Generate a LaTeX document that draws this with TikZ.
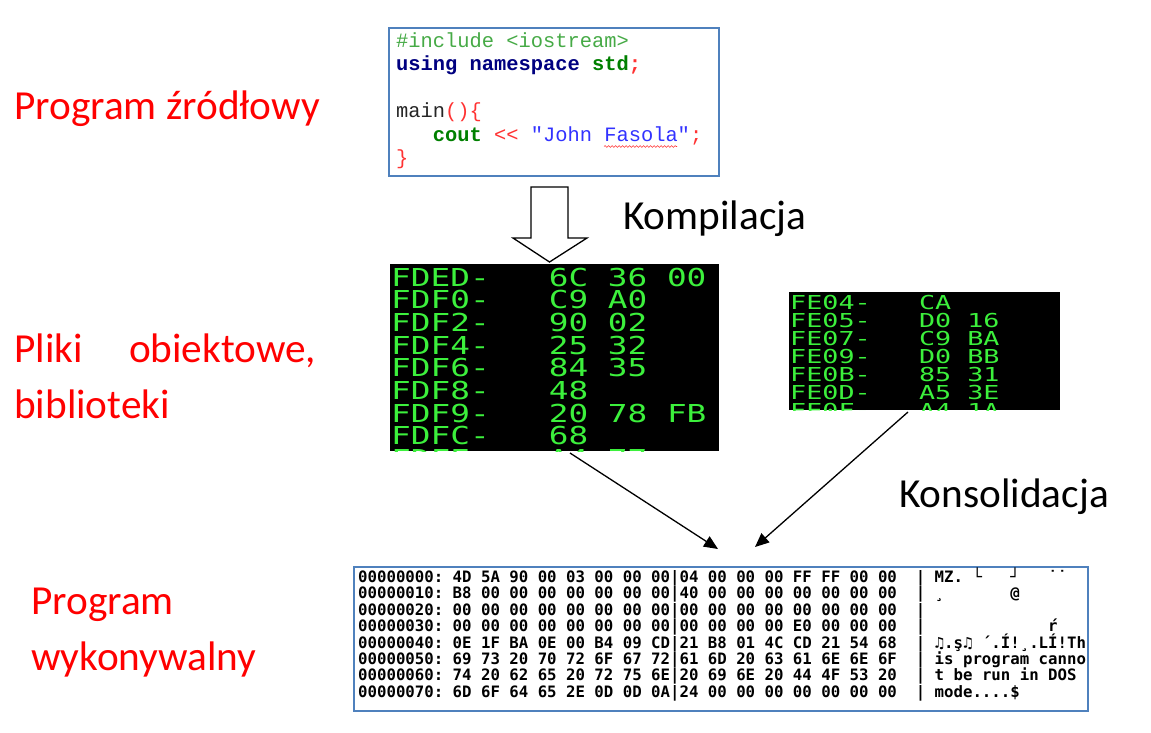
\documentclass[tikz,border=0pt]{standalone}
\usepackage{fontspec}
\usepackage{graphicx}
\setmainfont{Carlito}
\newfontfamily\codefont{Liberation Mono}
\newfontfamily\scrfont{DejaVu Sans Mono}
\usetikzlibrary{arrows.meta,decorations.pathmorphing}
\definecolor{lblred}{RGB}{255,0,0}
\definecolor{boxblue}{RGB}{79,129,189}
\definecolor{scrgreen}{RGB}{60,240,60}
\definecolor{incgreen}{RGB}{70,170,70}
\definecolor{kwblue}{RGB}{0,0,128}
\definecolor{kwgreen}{RGB}{0,128,0}
\definecolor{opred}{RGB}{255,50,50}
\definecolor{strblue}{RGB}{50,50,255}
\newcommand{\sone}[1]{\scalebox{1.325}[1]{#1}}
\newcommand{\stwo}[1]{\scalebox{1.393}[1]{#1}}
\tikzset{
  lbl/.style={font=\fontsize{41.3}{48}\selectfont, text=lblred, inner sep=0pt, anchor=base west},
  blbl/.style={lbl, text=black},
  codeln/.style={font=\codefont\fontsize{20.4}{23.5}\selectfont, inner sep=0pt, anchor=base west},
  scrone/.style={font=\scrfont\fontsize{24.7}{24}\selectfont, text=scrgreen, inner sep=0pt, anchor=base west},
  scrtwo/.style={font=\scrfont\fontsize{19.2}{20}\selectfont, text=scrgreen, inner sep=0pt, anchor=base west},
  hexln/.style={font=\scrfont\bfseries\fontsize{15.7}{16}\selectfont, text=black, inner sep=0pt, anchor=base west},
  framebox/.style={draw=boxblue, line width=1.8pt, fill=white},
  screenbox/.style={fill=black, draw=none},
  conn/.style={line width=1.3pt, -{Triangle[length=14pt,width=12pt]}},
  hollow/.style={draw=black, line width=1.3pt, fill=white, line join=miter}
}
\begin{document}
\begin{tikzpicture}[x=1pt,y=-1pt]
\useasboundingbox (0,0) rectangle (1151,732);

% left labels
\node[lbl] (l1) at (14,119) {Program źródłowy};
\node[lbl] (l2) at (14,362) {\makebox[302pt][s]{Pliki obiektowe,}};
\node[lbl] (l3) at (14,418) {biblioteki};
\node[lbl] (l4) at (31,614) {Program};
\node[lbl] (l5) at (31,670) {wykonywalny};
\node[blbl] (k1) at (623,229) {Kompilacja};
\node[blbl] (k2) at (899,507) {Konsolidacja};

% source code box
\draw[framebox] (389,28) rectangle (719,176);
\node[codeln] (c1) at (396,47) {\color{incgreen}\#include <iostream>};
\node[codeln] (c2) at (396,70.5) {\bfseries\color{kwblue}using namespace \color{kwgreen}std\color{opred};};
\node[codeln] (c3) at (396,117.5) {\color{black!85}main\color{opred}()\{};
\node[codeln] (c4) at (396,141) {~~~{\bfseries\color{kwgreen}cout}\color{opred}~<<~\color{strblue}"John Fasola"\color{opred};};
\node[codeln] (c5) at (396,164.5) {\color{opred}\}};
\draw[opred, line width=0.6pt, decorate, decoration={snake, amplitude=0.9pt, segment length=3.5pt}] (604,146.5) -- (677,146.5);

% hollow arrow
\draw[hollow] (531,187) -- (568,187) -- (568,238) -- (587,238) -- (549.5,262) -- (513,238) -- (531,238) -- cycle;

% screen 1
\node[screenbox, minimum width=329pt, minimum height=187pt, anchor=north west, inner sep=0pt] (obj1) at (390,264) {};
\begin{scope}
\clip (390,264) rectangle (719,451);
\node[scrone] (s1a) at (391,286) {\sone{FDED-~~~6C~36~00}};
\node[scrone] (s1b) at (391,308.7) {\sone{FDF0-~~~C9~A0}};
\node[scrone] (s1c) at (391,331.4) {\sone{FDF2-~~~90~02}};
\node[scrone] (s1d) at (391,354.1) {\sone{FDF4-~~~25~32}};
\node[scrone] (s1e) at (391,376.8) {\sone{FDF6-~~~84~35}};
\node[scrone] (s1f) at (391,399.5) {\sone{FDF8-~~~48}};
\node[scrone] (s1g) at (391,422.2) {\sone{FDF9-~~~20~78~FB}};
\node[scrone] (s1h) at (391,444.9) {\sone{FDFC-~~~68}};
\node[scrone] (s1i) at (391,467.6) {\sone{FDFE-~~~A4~77}};
\end{scope}

% screen 2
\node[screenbox, minimum width=271pt, minimum height=118pt, anchor=north west, inner sep=0pt] (obj2) at (789,292) {};
\begin{scope}
\clip (789,292) rectangle (1060,410);
\node[scrtwo] (s2a) at (790,309) {\stwo{FE04-~~~CA}};
\node[scrtwo] (s2b) at (790,327.1) {\stwo{FE05-~~~D0~16}};
\node[scrtwo] (s2c) at (790,345.2) {\stwo{FE07-~~~C9~BA}};
\node[scrtwo] (s2d) at (790,363.3) {\stwo{FE09-~~~D0~BB}};
\node[scrtwo] (s2e) at (790,381.4) {\stwo{FE0B-~~~85~31}};
\node[scrtwo] (s2f) at (790,399.5) {\stwo{FE0D-~~~A5~3E}};
\node[scrtwo] (s2g) at (790,417.6) {\stwo{FE0F-~~~A4~1A}};
\end{scope}

% executable box
\draw[framebox] (354,567) rectangle (1088,711);
\node[hexln] (h0) at (358,582.5) {00000000:~4D~5A~90~00~03~00~00~00|04~00~00~00~FF~FF~00~00~~|~MZ.~└~~~┘~~~˙˙};
\node[hexln] (h1) at (358,598.9) {00000010:~B8~00~00~00~00~00~00~00|40~00~00~00~00~00~00~00~~|~¸~~~~~~~@};
\node[hexln] (h2) at (358,615.3) {00000020:~00~00~00~00~00~00~00~00|00~00~00~00~00~00~00~00~~|};
\node[hexln] (h3) at (358,631.7) {00000030:~00~00~00~00~00~00~00~00|00~00~00~00~E0~00~00~00~~|~~~~~~~~~~~~~ŕ};
\node[hexln] (h4) at (358,648.1) {00000040:~0E~1F~BA~0E~00~B4~09~CD|21~B8~01~4C~CD~21~54~68~~|~♫.ş♫~´.Í!¸.LÍ!Th};
\node[hexln] (h5) at (358,664.5) {00000050:~69~73~20~70~72~6F~67~72|61~6D~20~63~61~6E~6E~6F~~|~is~program~canno};
\node[hexln] (h6) at (358,680.9) {00000060:~74~20~62~65~20~72~75~6E|20~69~6E~20~44~4F~53~20~~|~t~be~run~in~DOS};
\node[hexln] (h7) at (358,697.3) {00000070:~6D~6F~64~65~2E~0D~0D~0A|24~00~00~00~00~00~00~00~~|~mode....\$};

% connectors
\coordinate (a1s) at (570,453);
\coordinate (a1e) at (718,549);
\coordinate (a2s) at (908,412);
\coordinate (a2e) at (755,547);
\draw[conn] (a1s) -- (a1e);
\draw[conn] (a2s) -- (a2e);
\end{tikzpicture}
\end{document}
